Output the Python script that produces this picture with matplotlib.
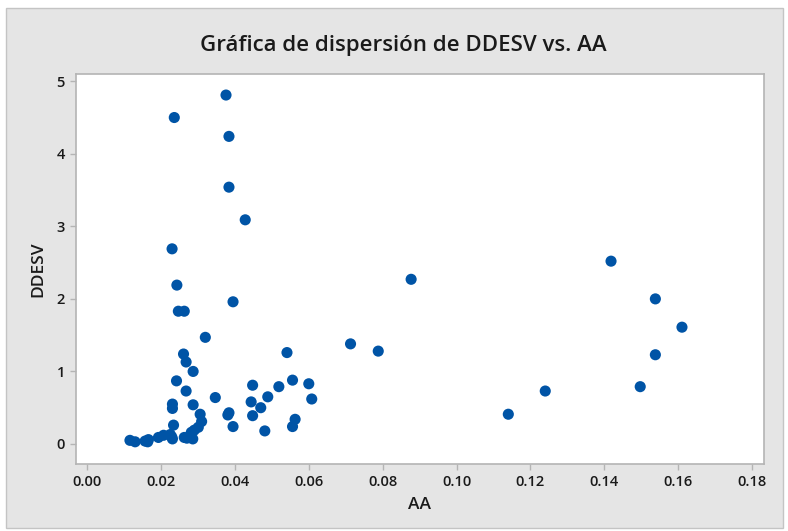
import matplotlib
matplotlib.use("Agg")
import matplotlib.pyplot as plt
from matplotlib.patches import Rectangle

# AA (x) and DDESV (y) observations
aa = [0.0376, 0.0236, 0.0384, 0.0384, 0.0428, 0.0230, 0.0243, 0.0247, 0.0263,
      0.0395, 0.0320, 0.0877, 0.1418, 0.1538, 0.1610, 0.1538, 0.1497, 0.1240,
      0.1140, 0.0788, 0.0713, 0.0541, 0.0556, 0.0600, 0.0519, 0.0489, 0.0448,
      0.0444, 0.0470, 0.0448, 0.0608, 0.0563, 0.0556, 0.0481, 0.0347, 0.0384,
      0.0381, 0.0395, 0.0261, 0.0268, 0.0287, 0.0242, 0.0268, 0.0231, 0.0231,
      0.0287, 0.0234, 0.0306, 0.0310, 0.0301, 0.0290, 0.0282, 0.0286, 0.0263,
      0.0231, 0.0225, 0.0207, 0.0193, 0.0166, 0.0157, 0.0116, 0.0130, 0.0229,
      0.0270, 0.0164]
ddesv = [4.81, 4.50, 4.24, 3.54, 3.09, 2.69, 2.19, 1.83, 1.83,
         1.96, 1.47, 2.27, 2.52, 2.00, 1.61, 1.23, 0.79, 0.73,
         0.41, 1.28, 1.38, 1.26, 0.88, 0.83, 0.79, 0.65, 0.81,
         0.58, 0.50, 0.39, 0.62, 0.34, 0.24, 0.18, 0.64, 0.43,
         0.40, 0.24, 1.24, 1.13, 1.00, 0.87, 0.73, 0.55, 0.49,
         0.54, 0.26, 0.41, 0.31, 0.23, 0.19, 0.16, 0.07, 0.09,
         0.07, 0.13, 0.12, 0.09, 0.06, 0.04, 0.05, 0.03, 0.10,
         0.08, 0.03]

x_ticks = [0.00, 0.02, 0.04, 0.06, 0.08, 0.10, 0.12, 0.14, 0.16, 0.18]
y_ticks = [0, 1, 2, 3, 4, 5]

plt.rcParams['font.family'] = ['Open Sans', 'DejaVu Sans']

W, H = 788, 531
fig = plt.figure(figsize=(W / 100, H / 100), dpi=100, facecolor='white')

# grey panel behind the plot
fig.patches.append(Rectangle((6 / W, 3 / H), 777 / W, 520 / H,
                             transform=fig.transFigure, facecolor='#e5e5e5',
                             edgecolor='#c4c4c4', linewidth=1.0, zorder=-10))

ax = fig.add_axes([76 / W, 67 / H, 688 / W, 390 / H])
ax.set_facecolor('white')
ax.scatter(aa, ddesv, s=64, color='#0054a6', edgecolors='none', zorder=3)

ax.set_xlim(-0.003, 0.1832)
ax.set_ylim(-0.276, 5.10)
ax.set_xticks(x_ticks)
ax.set_xticklabels([f"{v:.2f}" for v in x_ticks])
ax.set_yticks(y_ticks)

for sp in ax.spines.values():
    sp.set_color('#b4b4b4')
    sp.set_linewidth(1.2)
ax.tick_params(axis='both', direction='out', length=4, width=1,
               color='#b4b4b4', labelsize=10.5, labelcolor='#1a1a1a', pad=4)
for lbl in ax.get_xticklabels() + ax.get_yticklabels():
    lbl.set_fontweight('semibold')

ax.set_xlabel('AA', fontsize=12.5, fontweight='semibold', color='#1a1a1a', labelpad=6)
ax.set_ylabel('DDESV', fontsize=12.5, fontweight='semibold', color='#1a1a1a', labelpad=7)
fig.text(403 / W, 1 - 45 / H, 'Gráfica de dispersión de DDESV vs. AA',
         ha='center', va='center', fontsize=16, fontweight='semibold', color='#1a1a1a')

fig.savefig('out.png', dpi=100, facecolor='white')
